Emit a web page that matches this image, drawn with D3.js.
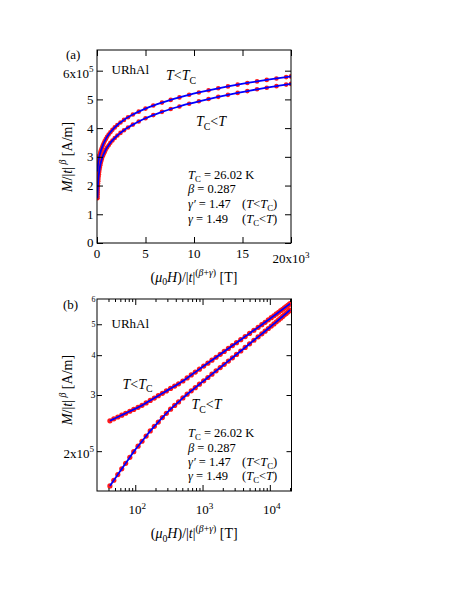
<!DOCTYPE html>
<html><head><meta charset="utf-8">
<script src="https://cdn.jsdelivr.net/npm/d3@7"></script>
<style>
body{margin:0;background:#fff}
text{font-family:"Liberation Serif","Times New Roman",serif;fill:#000}
</style>
</head><body>
<svg id="c" width="463" height="599"></svg>
<script>
// Data: x = (mu0 H)/|t|^(beta+gamma) [T], y = M/|t|^beta in units of 1e5 A/m
// T < Tc branch
const belowX = [42,48,55,63,72,83,95,110,126,145,167,192,220,253,290,335,385,440,510,590,680,780,900,1040,1200,1380,1590,1830,2100,2420,2780,3200,3700,4300,5000,5800,6700,7600,8500,9500,10500,11500,12500,13500,14500,15500,16500,17500,18500,19500,20000];
const belowY = [2.49,2.525,2.559,2.594,2.630,2.668,2.704,2.744,2.784,2.834,2.884,2.934,2.985,3.037,3.089,3.146,3.199,3.253,3.319,3.393,3.467,3.539,3.616,3.696,3.776,3.857,3.940,4.025,4.110,4.198,4.286,4.377,4.472,4.574,4.680,4.785,4.889,4.983,5.070,5.161,5.242,5.317,5.387,5.452,5.514,5.572,5.627,5.679,5.729,5.777,5.80];
// Tc < T branch
const aboveX = [42,48,55,63,72,83,95,110,126,145,167,192,220,253,290,335,385,440,510,590,680,780,900,1040,1200,1380,1590,1830,2100,2420,2780,3200,3700,4300,5000,5800,6700,7600,8500,9500,10500,11500,12500,13500,14500,15500,16500,17500,18500,19500,20000];
const aboveY = [1.556,1.621,1.689,1.760,1.832,1.913,1.993,2.073,2.148,2.230,2.315,2.392,2.468,2.549,2.629,2.709,2.782,2.854,2.937,3.017,3.091,3.163,3.243,3.323,3.404,3.487,3.571,3.656,3.743,3.834,3.925,4.021,4.122,4.229,4.342,4.454,4.566,4.666,4.755,4.849,4.933,5.012,5.088,5.159,5.226,5.289,5.351,5.408,5.462,5.515,5.54];

// tick values / labels
const aXTicks = [0,5000,10000,15000];
const aXLabels = ["0","5","10","15"];
const aYTicks = [0,1,2,3,4,5];
const aYLabels = ["0","1","2","3","4","5"];
const bXMajor = [100,1000,10000];
const bXMajorExp = ["2","3","4"];
const bXMinor = [40,50,60,70,80,90,200,300,400,500,600,700,800,900,2000,3000,4000,5000,6000,7000,8000,9000,20000];
const bYTicks = [2,3,4,5];
const bYSmallLabels = [["6",6,8],["5",5,8],["4",4,8],["3",3,10]];

const svg = d3.select("#c");
const belowData = belowX.map((x,i)=>({x, y: belowY[i]}));
const aboveData = aboveX.map((x,i)=>({x, y: aboveY[i]}));

function rich(sel, parts, size){
  sel.attr("font-size", size);
  let cur = 0;
  parts.forEach(p=>{
    let target = 0, fs = size;
    if(p.s==="sup"){target = -0.42*size; fs = size*0.7;}
    if(p.s==="sub"){target = 0.25*size; fs = size*0.7;}
    const ts = sel.append("tspan").text(p.t).attr("font-size", fs);
    if(target!==cur){ ts.attr("dy", target-cur); cur = target; }
    if(p.i) ts.attr("font-style","italic");
  });
}

const xLabelParts = [{t:"("},{t:"\u03bc",i:1},{t:"0",s:"sub"},{t:"H",i:1},{t:")/|"},{t:"t",i:1},{t:"|"},
  {t:"(",s:"sup"},{t:"\u03b2",s:"sup",i:1},{t:"+",s:"sup"},{t:"\u03b3",s:"sup",i:1},{t:")",s:"sup"},{t:" [T]"}];
const yLabelParts = [{t:"M",i:1},{t:"/|"},{t:"t",i:1},{t:"|"},{t:" \u03b2",s:"sup",i:1},{t:" [A/m]"}];

function params(g, x, ys){
  const fs = 12.5;
  let t = g.append("text").attr("x",x).attr("y",ys[0]);
  rich(t,[{t:"T",i:1},{t:"C",s:"sub"},{t:" = 26.02 K"}],fs);
  t = g.append("text").attr("x",x).attr("y",ys[1]);
  rich(t,[{t:"\u03b2",i:1},{t:"  = 0.287"}],fs);
  t = g.append("text").attr("x",x).attr("y",ys[2]);
  rich(t,[{t:"\u03b3\u2032",i:1},{t:"  = 1.47"}],fs);
  t = g.append("text").attr("x",x+54).attr("y",ys[2]);
  rich(t,[{t:"("},{t:"T",i:1},{t:"<"},{t:"T",i:1},{t:"C",s:"sub"},{t:")"}],fs);
  t = g.append("text").attr("x",x).attr("y",ys[3]);
  rich(t,[{t:"\u03b3",i:1},{t:" = 1.49"}],fs);
  t = g.append("text").attr("x",x+54).attr("y",ys[3]);
  rich(t,[{t:"("},{t:"T",i:1},{t:"C",s:"sub"},{t:"<"},{t:"T",i:1},{t:")"}],fs);
}

function drawSeries(g, xs, ys, r){
  const line = d3.line().x(d=>xs(d.x)).y(d=>ys(d.y)).curve(d3.curveMonotoneX);
  [belowData, aboveData].forEach(dd=>{
    g.append("g").selectAll("circle").data(dd).join("circle")
      .attr("cx",d=>xs(d.x)).attr("cy",d=>ys(d.y)).attr("r",r).attr("fill","#ff1a1a");
  });
  [belowData, aboveData].forEach(dd=>{
    g.append("path").datum(dd).attr("d",line).attr("fill","none").attr("stroke","#0000ff").attr("stroke-width",1.8);
  });
}

function clean(g){ g.select(".domain").remove(); g.selectAll(".tick line").attr("stroke","#000"); }

// ---------- Panel (a) ----------
{
  const L=97,R=291,T=50,B=243;
  const x = d3.scaleLinear().domain([0,20000]).range([L,R]);
  const y = d3.scaleLinear().domain([0,6.72]).range([B,T]);
  svg.append("defs").append("clipPath").attr("id","ca").append("rect").attr("x",L).attr("y",T).attr("width",R-L).attr("height",B-T);
  const g = svg.append("g");
  const dg = g.append("g").attr("clip-path","url(#ca)");
  drawSeries(dg, x, y, 2.3);
  const xt=[...aXTicks,20000], yt=[...aYTicks,6];
  g.append("g").attr("transform",`translate(0,${B})`).call(d3.axisBottom(x).tickValues(xt).tickSizeInner(-6).tickSizeOuter(0).tickFormat("")).call(clean);
  g.append("g").attr("transform",`translate(0,${T})`).call(d3.axisTop(x).tickValues(xt).tickSizeInner(-6).tickSizeOuter(0).tickFormat("")).call(clean);
  g.append("g").attr("transform",`translate(${L},0)`).call(d3.axisLeft(y).tickValues(yt).tickSizeInner(-6).tickSizeOuter(0).tickFormat("")).call(clean);
  g.append("g").attr("transform",`translate(${R},0)`).call(d3.axisRight(y).tickValues(yt).tickSizeInner(-6).tickSizeOuter(0).tickFormat("")).call(clean);
  g.append("rect").attr("x",L).attr("y",T).attr("width",R-L).attr("height",B-T).attr("fill","none").attr("stroke","#000").attr("stroke-width",1);
  aXTicks.forEach((v,i)=>g.append("text").attr("x",x(v)).attr("y",B+14.5).attr("text-anchor","middle").attr("font-size",13).text(aXLabels[i]));
  let t = g.append("text").attr("x",x(20000)).attr("y",B+20).attr("text-anchor","middle");
  rich(t,[{t:"20x10"},{t:"3",s:"sup"}],13);
  aYTicks.forEach((v,i)=>g.append("text").attr("x",93.5).attr("y",y(v)+4.4).attr("text-anchor","end").attr("font-size",13).text(aYLabels[i]));
  t = g.append("text").attr("x",93.5).attr("y",y(6)+7).attr("text-anchor","end");
  rich(t,[{t:"6x10"},{t:"5",s:"sup"}],13);
  g.append("text").attr("x",66).attr("y",59).attr("font-size",13).text("(a)");
  g.append("text").attr("x",111.5).attr("y",74).attr("font-size",13).text("URhAl");
  t = g.append("text").attr("x",166).attr("y",80);
  rich(t,[{t:"T",i:1},{t:"<"},{t:"T",i:1},{t:"C",s:"sub"}],14);
  t = g.append("text").attr("x",196).attr("y",126);
  rich(t,[{t:"T",i:1},{t:"C",s:"sub"},{t:"<"},{t:"T",i:1}],14);
  params(g, 188, [178.5,193,208,222.5]);
  t = g.append("text").attr("x",(L+R)/2).attr("y",281.5).attr("text-anchor","middle");
  rich(t,xLabelParts,14);
  t = g.append("text").attr("transform","translate(72,157) rotate(-90)").attr("text-anchor","middle");
  rich(t,yLabelParts,14);
}

// ---------- Panel (b) ----------
{
  const L=97,R=291.5,T=299,B=491;
  const x = d3.scaleLog().domain([27,21000]).range([L,R]);
  const y = d3.scaleLog().domain([1.5,6]).range([B,T]);
  svg.select("defs").append("clipPath").attr("id","cb").append("rect").attr("x",L).attr("y",T).attr("width",R-L).attr("height",B-T);
  const g = svg.append("g");
  const dg = g.append("g").attr("clip-path","url(#cb)");
  drawSeries(dg, x, y, 2.6);
  g.append("g").attr("transform",`translate(0,${B})`).call(d3.axisBottom(x).tickValues(bXMajor).tickSizeInner(-6).tickSizeOuter(0).tickFormat("")).call(clean);
  g.append("g").attr("transform",`translate(0,${B})`).call(d3.axisBottom(x).tickValues(bXMinor).tickSizeInner(-3).tickSizeOuter(0).tickFormat("")).call(clean);
  g.append("g").attr("transform",`translate(0,${T})`).call(d3.axisTop(x).tickValues(bXMajor).tickSizeInner(-6).tickSizeOuter(0).tickFormat("")).call(clean);
  g.append("g").attr("transform",`translate(0,${T})`).call(d3.axisTop(x).tickValues(bXMinor).tickSizeInner(-3).tickSizeOuter(0).tickFormat("")).call(clean);
  g.append("g").attr("transform",`translate(${L},0)`).call(d3.axisLeft(y).tickValues(bYTicks).tickSizeInner(-5).tickSizeOuter(0).tickFormat("")).call(clean);
  g.append("g").attr("transform",`translate(${R},0)`).call(d3.axisRight(y).tickValues(bYTicks).tickSizeInner(-5).tickSizeOuter(0).tickFormat("")).call(clean);
  g.append("rect").attr("x",L).attr("y",T).attr("width",R-L).attr("height",B-T).attr("fill","none").attr("stroke","#000").attr("stroke-width",1);
  bXMajor.forEach((v,i)=>{
    const t = g.append("text").attr("x",x(v)+2).attr("y",B+23).attr("text-anchor","middle");
    rich(t,[{t:"10"},{t:bXMajorExp[i],s:"sup"}],13);
  });
  bYSmallLabels.forEach(([s,v,fs])=>g.append("text").attr("x",95.5).attr("y",y(v)+fs*0.33).attr("text-anchor","end").attr("font-size",fs).text(s));
  let t = g.append("text").attr("x",94).attr("y",y(2)+6.5).attr("text-anchor","end");
  rich(t,[{t:"2x10"},{t:"5",s:"sup"}],13);
  g.append("text").attr("x",63).attr("y",309).attr("font-size",13).text("(b)");
  g.append("text").attr("x",111.5).attr("y",327.5).attr("font-size",13).text("URhAl");
  t = g.append("text").attr("x",122.5).attr("y",388.5);
  rich(t,[{t:"T",i:1},{t:"<"},{t:"T",i:1},{t:"C",s:"sub"}],14);
  t = g.append("text").attr("x",191.5).attr("y",409);
  rich(t,[{t:"T",i:1},{t:"C",s:"sub"},{t:"<"},{t:"T",i:1}],14);
  params(g, 188, [437,451.5,465.5,479.5]);
  t = g.append("text").attr("x",(L+R)/2).attr("y",538).attr("text-anchor","middle");
  rich(t,xLabelParts,14);
  t = g.append("text").attr("transform","translate(72,390) rotate(-90)").attr("text-anchor","middle");
  rich(t,yLabelParts,14);
}
</script>
</body></html>
